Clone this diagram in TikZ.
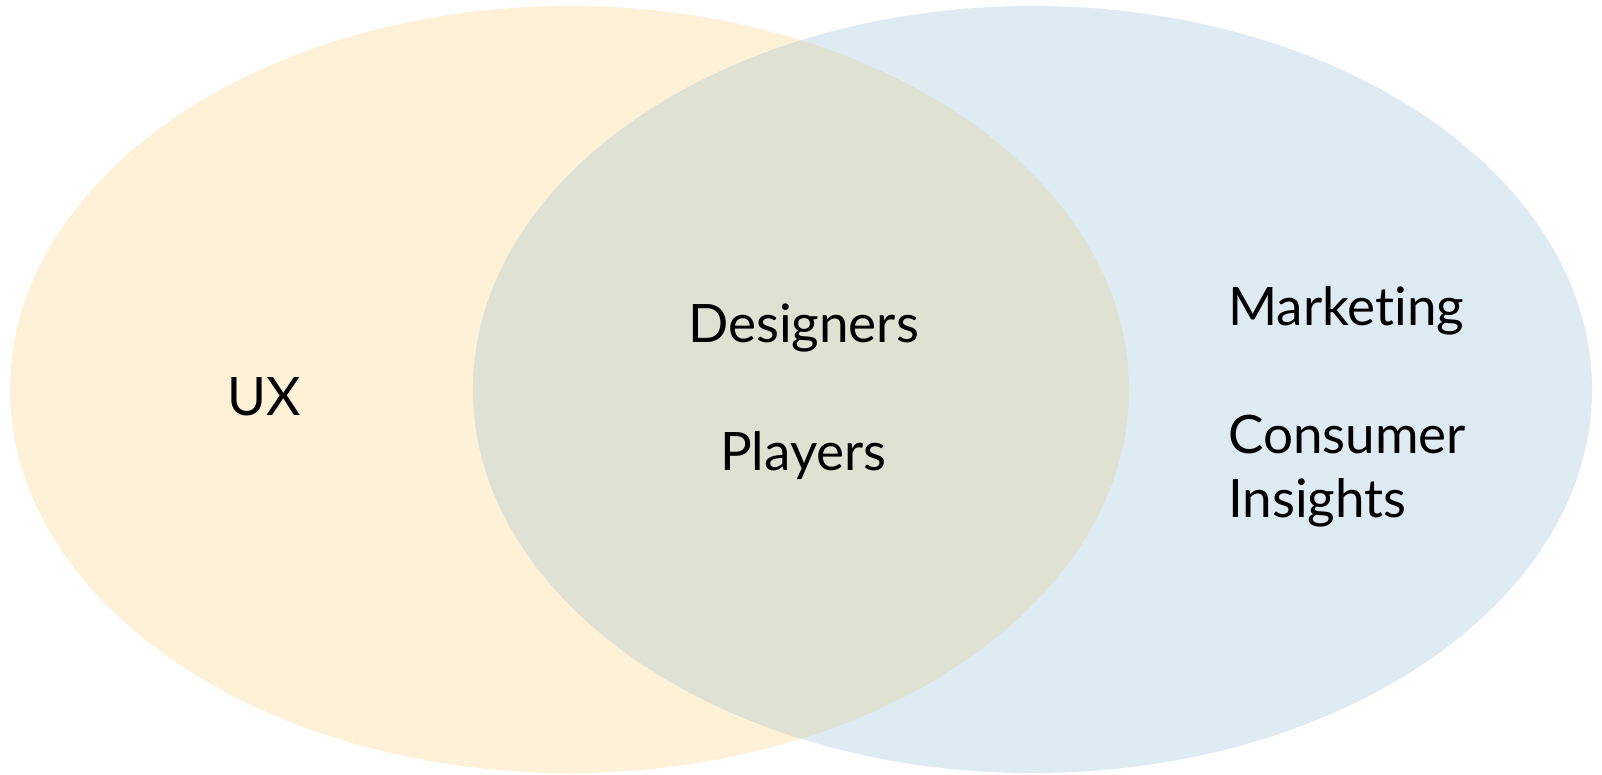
\documentclass[tikz,border=0pt]{standalone}
\usepackage{fontspec}
\setmainfont{Lato}[Ligatures={NoCommon}]
\definecolor{uxfill}{HTML}{FDF1D8}
\definecolor{mkfill}{HTML}{DEEBF3}
\definecolor{bothfill}{HTML}{DFE2D3}
\begin{document}
\begin{tikzpicture}[x=1pt,y=-1pt,
  label/.style={inner sep=0pt,font=\fontsize{53}{64}\selectfont,text=black}]
\useasboundingbox (0,0) rectangle (1602,775);
\fill[white] (0,0) rectangle (1602,775);
% the two sets
\fill[uxfill] (569.5,389.5) ellipse [x radius=559.5, y radius=383.5];
\fill[mkfill] (1032.5,389.5) ellipse [x radius=559.5, y radius=383.5];
% their overlap
\begin{scope}
  \clip (569.5,389.5) ellipse [x radius=559.5, y radius=383.5];
  \fill[bothfill] (1032.5,389.5) ellipse [x radius=559.5, y radius=383.5];
\end{scope}
% labels
\node[label,anchor=base west] (ux) at (227,415) {UX};
\node[label,anchor=base] (designers) at (803.5,342) {Designers};
\node[label,anchor=base] (players) at (803.5,470) {Players};
\node[label,anchor=base west] (marketing) at (1228,325) {Marketing};
% two-line label: its base anchor sits on the last line
\node[label,anchor=base west,align=left] (consumer) at (1228,517) {Consumer\\Insights};
\end{tikzpicture}
\end{document}
